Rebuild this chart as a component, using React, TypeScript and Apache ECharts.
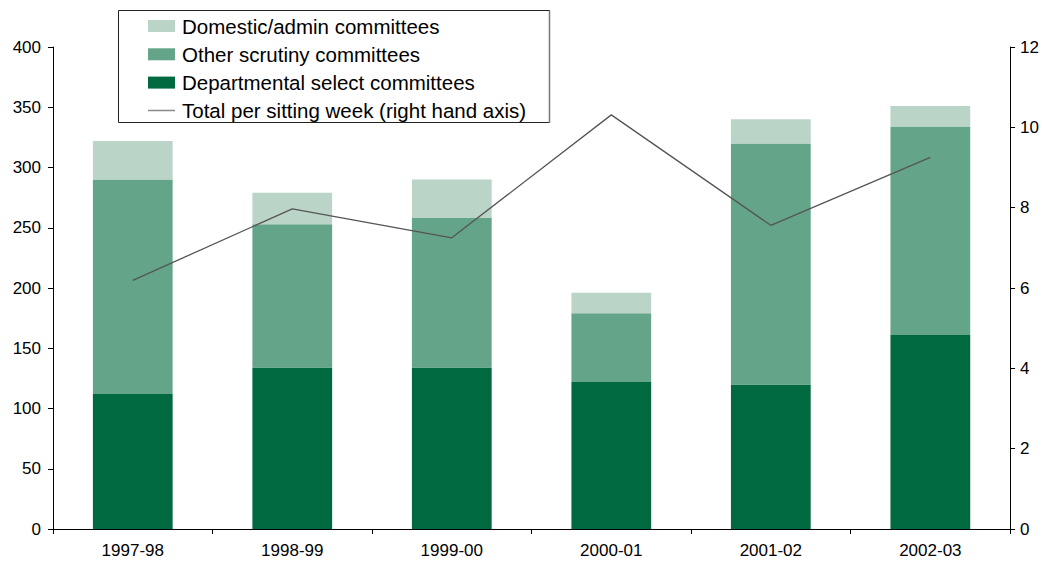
import React, { useEffect, useRef } from "react";
import * as echarts from "echarts";

const categories = ["1997-98", "1998-99", "1999-00", "2000-01", "2001-02", "2002-03"];
const departmental = [112, 134, 134, 122, 120, 161];
const otherScrutiny = [178, 119, 124, 57, 200, 173];
const domesticAdmin = [32, 26, 32, 17, 20, 17];
const totalPerWeek = [6.19, 7.97, 7.25, 10.31, 7.56, 9.25];

const leftTicks = { min: 0, max: 400, interval: 50 };
const rightTicks = { min: 0, max: 12, interval: 2 };

const FONT = "'Liberation Sans', Arial, sans-serif";

export default function App() {
  const ref = useRef<HTMLDivElement>(null);
  useEffect(() => {
    if (!ref.current) return;
    const chart = echarts.init(ref.current, null, { renderer: "svg" });
    const axisLabel = { color: "#000", fontSize: 17, fontFamily: FONT };
    chart.setOption({
      animation: false,
      backgroundColor: "#fff",
      textStyle: { fontFamily: FONT },
      grid: { left: 53, right: 31, top: 47, bottom: 34, containLabel: false },
      graphic: [
        {
          type: "rect",
          shape: { x: 118.5, y: 10.5, width: 431, height: 112 },
          style: { fill: "none", stroke: "#222", lineWidth: 1 },
          z: 100,
        },
        {
          type: "line",
          shape: { x1: 549.5, y1: 11, x2: 549.5, y2: 123 },
          style: { stroke: "#777", lineWidth: 1.5 },
          z: 101,
        },
        {
          type: "line",
          shape: { x1: 148, y1: 110.5, x2: 175, y2: 110.5 },
          style: { stroke: "#888", lineWidth: 1.5 },
          z: 101,
        },
      ],
      legend: {
        left: 148,
        top: 15.5,
        orient: "vertical",
        itemWidth: 27,
        itemHeight: 12,
        itemGap: 7.3,
        padding: 0,
        textStyle: {
          color: "#000",
          fontSize: 20.5,
          fontFamily: FONT,
          lineHeight: 21,
          padding: [0, 0, 0, 2],
        },
        data: [
          { name: "Domestic/admin committees", icon: "rect" },
          { name: "Other scrutiny committees", icon: "rect" },
          { name: "Departmental select committees", icon: "rect" },
          { name: "Total per sitting week (right hand axis)", icon: "none" },
        ],
      },
      xAxis: {
        type: "category",
        data: categories,
        boundaryGap: true,
        axisLine: { lineStyle: { color: "#000", width: 1 } },
        axisTick: { show: true, length: 5, lineStyle: { color: "#000" } },
        axisLabel: { ...axisLabel, margin: 13 },
        splitLine: { show: false },
      },
      yAxis: [
        {
          type: "value",
          ...leftTicks,
          position: "left",
          axisLine: { show: true, lineStyle: { color: "#000", width: 1 } },
          axisTick: { show: true, length: 5, lineStyle: { color: "#000" } },
          axisLabel: { ...axisLabel, margin: 12 },
          splitLine: { show: false },
        },
        {
          type: "value",
          ...rightTicks,
          position: "right",
          axisLine: { show: true, lineStyle: { color: "#000", width: 1 } },
          axisTick: { show: true, length: 5, lineStyle: { color: "#000" } },
          axisLabel: { ...axisLabel, margin: 10 },
          splitLine: { show: false },
        },
      ],
      series: [
        {
          name: "Departmental select committees",
          type: "bar",
          stack: "total",
          data: departmental,
          barCategoryGap: "50%",
          itemStyle: { color: "#006940" },
        },
        {
          name: "Other scrutiny committees",
          type: "bar",
          stack: "total",
          data: otherScrutiny,
          barCategoryGap: "50%",
          itemStyle: { color: "#64A489" },
        },
        {
          name: "Domestic/admin committees",
          type: "bar",
          stack: "total",
          data: domesticAdmin,
          barCategoryGap: "50%",
          itemStyle: { color: "#BAD4C8" },
        },
        {
          name: "Total per sitting week (right hand axis)",
          type: "line",
          yAxisIndex: 1,
          data: totalPerWeek,
          symbol: "none",
          lineStyle: { color: "#555", width: 1.3 },
          itemStyle: { color: "#555" },
          z: 10,
        },
      ],
    });
    return () => chart.dispose();
  }, []);
  return (
    <div
      ref={ref}
      style={{ position: "fixed", left: 0, top: 0, width: 1042, height: 563, background: "#fff" }}
    />
  );
}
